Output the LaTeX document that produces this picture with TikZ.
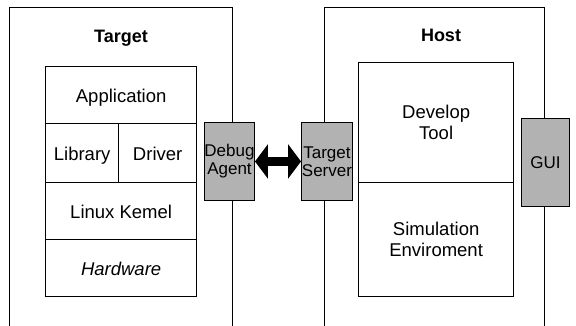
\documentclass[tikz,border=0pt]{standalone}
\usepackage{fontspec}
\setmainfont{Liberation Sans}
\usetikzlibrary{arrows.meta}
\begin{document}
\begin{tikzpicture}[x=1pt,y=-1pt,
  outer/.style={draw=black,line width=0.9pt},
  cell/.style={draw=black,line width=1.3pt,inner sep=0pt,text height=15pt,text depth=0pt,font=\fontsize{18.5}{22}\selectfont},
  tallcell/.style={draw=black,line width=1.3pt,inner sep=0pt,align=center,font=\fontsize{18.5}{22}\selectfont},
  grey/.style={draw=black,line width=0.9pt,fill=gray!60,inner sep=0pt,font=\fontsize{17}{18}\selectfont,align=center},
  ttl/.style={font=\fontsize{18}{20}\selectfont\bfseries}]
\useasboundingbox (0,0) rectangle (576,326);
\fill[white] (0,0) rectangle (576,326);
% outer boxes (open at the bottom)
\draw[outer] (9,330) -- (9,7) -- (232,7) -- (232,330);
\draw[outer] (324,330) -- (324,7) -- (544,7) -- (544,330);
\node[ttl] (tt) at (121,38) {Target};
\node[ttl] (ht) at (441,35) {Host};
% target stack
\node[cell,minimum width=151pt,minimum height=57pt,anchor=north west] (app) at (45,66) {Application};
\node[cell,minimum width=73pt,minimum height=59pt,anchor=north west] (lib) at (45,123) {Library};
\node[cell,minimum width=78pt,minimum height=59pt,anchor=north west] (drv) at (118,123) {Driver};
\node[cell,minimum width=151pt,minimum height=57pt,anchor=north west] (ker) at (45,182) {Linux Kemel};
\node[cell,minimum width=151pt,minimum height=57pt,anchor=north west] (hw) at (45,239) {\itshape Hardware};
% host stack
\node[tallcell,minimum width=155pt,minimum height=120pt,anchor=north west] (dev) at (358,62) {Develop\\[-1pt]Tool};
\node[tallcell,minimum width=155pt,minimum height=114pt,anchor=north west] (sim) at (358,182) {Simulation\\[-1pt]Enviroment};
% grey boxes
\node[grey,minimum width=49pt,minimum height=78pt,anchor=north west] (da) at (204,122) {Debug\\Agent};
\node[grey,minimum width=51pt,minimum height=78pt,anchor=north west] (ts) at (301,122) {Target\\Server};
\node[grey,minimum width=48pt,minimum height=88pt,anchor=north west] (gui) at (521,118) {GUI};
% double arrow
\draw[line width=9pt,{Triangle[length=13pt,width=34pt]}-{Triangle[length=13pt,width=34pt]}] (da.east) -- (ts.west);
\end{tikzpicture}
\end{document}
